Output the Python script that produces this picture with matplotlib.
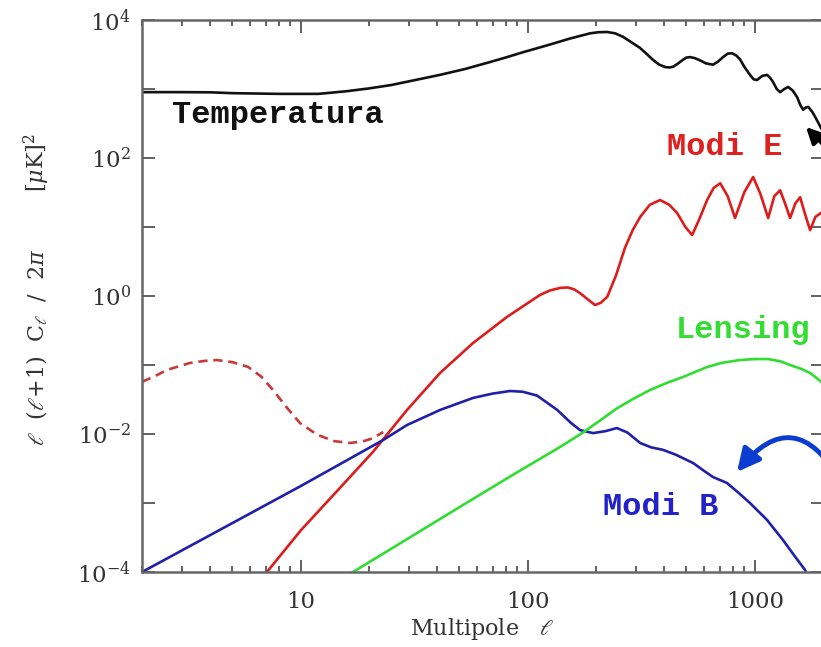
import matplotlib
matplotlib.use("Agg")
import matplotlib.pyplot as plt
from matplotlib.ticker import LogLocator, NullLocator, NullFormatter

# temperature spectrum
ell_tt = [2, 3, 4, 5, 8, 12, 16, 20, 25, 32, 41, 53, 68, 80, 95, 113, 125, 154,
          188, 205, 224, 243, 263, 285, 312, 335, 356, 380, 403, 420, 437, 460,
          483, 500, 519, 545, 574, 610, 655, 690, 725, 760, 794, 830, 861, 900,
          953, 990, 1024, 1080, 1133, 1170, 1205, 1250, 1294, 1350, 1403, 1470,
          1538, 1590, 1634, 1680, 1721, 1790, 1849, 1910, 1961]
cl_tt = [900, 900, 895, 870, 850, 850, 930, 1020, 1140, 1350, 1600, 1950, 2450,
         2860, 3400, 4000, 4400, 5400, 6400, 6650, 6700, 6400, 5700, 4800, 3950,
         3200, 2650, 2250, 2080, 2050, 2100, 2350, 2650, 2850, 2900, 2800, 2600,
         2350, 2250, 2500, 2900, 3250, 3300, 3050, 2700, 2100, 1600, 1380, 1350,
         1550, 1600, 1450, 1260, 1000, 900, 1000, 1070, 950, 760, 580, 500, 540,
         550, 470, 390, 320, 270]

# E modes (solid) and reionization bump (dashed)
ell_ee = [7.1, 10, 15, 20.8, 29.4, 41.1, 57.4, 81, 113, 125, 139, 150, 160, 170,
          185, 198, 210, 224, 245, 268, 290, 313, 345, 383, 420, 455, 495, 530,
          570, 617, 660, 705, 760, 819, 900, 984, 1060, 1146, 1220, 1294, 1360,
          1432, 1510, 1585, 1670, 1754, 1850, 1960]
cl_ee = [1e-4, 4.0e-4, 1.7e-3, 5.5e-3, 0.0223, 0.0766, 0.208, 0.497, 1.03, 1.2,
         1.31, 1.33, 1.25, 1.10, 0.88, 0.74, 0.80, 0.97, 2.0, 4.96, 9, 14, 21,
         24.6, 21, 16, 10, 7.65, 13, 24.6, 37, 43, 28, 13.5, 32, 53, 30, 13.5,
         28, 34, 22, 13.5, 22, 27, 15, 9, 14, 16]
ell_ee_reion = [2, 2.3, 2.58, 3.25, 3.8, 4.28, 5, 5.86, 6.7, 7.55, 8.7, 9.93,
                11.8, 14, 16.5, 19, 20.8, 23.1]
cl_ee_reion = [0.057, 0.07, 0.085, 0.107, 0.115, 0.118, 0.11, 0.094, 0.068,
               0.0435, 0.024, 0.0144, 0.0098, 0.0079, 0.0074, 0.0079, 0.0087,
               0.0107]

# B modes
ell_bb = [2, 10, 23.1, 29.4, 41.1, 57.4, 70, 83.6, 95, 110, 135, 155, 170, 194,
          220, 247, 275, 313, 350, 394, 450, 535, 600, 655, 755, 850, 953, 1132,
          1333, 1500, 1667, 1720]
cl_bb = [1e-4, 1.76e-3, 8.2e-3, 0.0135, 0.0223, 0.0333, 0.0385, 0.042, 0.041,
         0.036, 0.0223, 0.0145, 0.0114, 0.0103, 0.011, 0.0122, 0.0105, 0.0074,
         0.0064, 0.0059, 0.0050, 0.0038, 0.0029, 0.00238, 0.00195, 0.0014,
         0.001, 5.7e-4, 2.9e-4, 1.7e-4, 1.07e-4, 8e-5]

# lensing B modes
ell_lens = [17, 27.4, 50, 90, 139, 175, 210, 247, 290, 346, 410, 483, 550, 617,
            720, 861, 1000, 1146, 1300, 1432, 1600, 1754, 1850, 1960]
cl_lens = [1e-4, 2.6e-4, 8.7e-4, 2.8e-3, 0.0065, 0.0105, 0.016, 0.0235, 0.032,
           0.0435, 0.055, 0.067, 0.08, 0.0935, 0.108, 0.118, 0.122, 0.122,
           0.113, 0.1, 0.088, 0.0766, 0.067, 0.057]

x_ticks = [10, 100, 1000]
x_ticklabels = ["10", "100", "1000"]
y_ticks = [1e-4, 1e-3, 1e-2, 1e-1, 1e0, 1e1, 1e2, 1e3, 1e4]
y_ticklabels = [r"$10^{-4}$", "", r"$10^{-2}$", "", r"$10^{0}$", "",
                r"$10^{2}$", "", r"$10^{4}$"]

plt.rcParams["mathtext.fontset"] = "dejavuserif"
plt.rcParams["font.family"] = "DejaVu Serif"

fig = plt.figure(figsize=(8.21, 6.47), dpi=100)
ax = fig.add_axes([0.1730, 0.1159, 0.8295, 0.8532])

ax.plot(ell_tt, cl_tt, color="#111111", lw=1.9)
ax.plot(ell_ee, cl_ee, color="#dd1c1c", lw=1.9)
ax.plot(ell_ee_reion, cl_ee_reion, color="#c83a3a", lw=1.9, ls=(0, (3.5, 2.2)))
ax.plot(ell_bb, cl_bb, color="#2020a8", lw=1.9)
ax.plot(ell_lens, cl_lens, color="#30dd30", lw=1.9)

ax.set_xscale("log")
ax.set_yscale("log")
ax.set_xlim(2, 2000)
ax.set_ylim(1e-4, 1e4)

ax.set_xticks(x_ticks)
ax.set_xticklabels(x_ticklabels)
ax.xaxis.set_minor_locator(LogLocator(base=10, subs=range(2, 10)))
ax.xaxis.set_minor_formatter(NullFormatter())
ax.set_yticks(y_ticks)
ax.set_yticklabels(y_ticklabels)
ax.yaxis.set_minor_locator(NullLocator())

ax.tick_params(which="both", direction="in", top=True, right=True,
               color="#555555", width=1.3)
ax.tick_params(which="major", length=9, labelsize=16.5, labelcolor="#333333")
ax.tick_params(axis="x", which="major", pad=14)
ax.tick_params(axis="y", which="major", pad=8)
ax.tick_params(which="minor", length=4)
for sp in ax.spines.values():
    sp.set_color("#666666")
    sp.set_linewidth(1.8)

ax.set_xlabel(r"Multipole   $\ell$", fontsize=16, color="#333333", labelpad=2)
fig.text(0.045, 1 - 163 / 647, r"$[\mu\mathrm{K}]^2$", rotation=90,
         ha="center", va="center", fontsize=16, color="#333333")
fig.text(0.045, 1 - 347 / 647,
         r"$\ell\ \ (\ell{+}1)\ \ \mathrm{C}_\ell\ \ /\ \ 2\pi$",
         rotation=90, ha="center", va="center", fontsize=16, color="#333333")

mono = dict(family="Liberation Mono", weight="bold", fontsize=23,
            transform=ax.transAxes, ha="left", va="baseline")
ax.text(0.044, 0.813, "Temperatura", color="#111111", **mono)
ax.text(0.771, 0.755, "Modi E", color="#dd2020", **mono)
ax.text(0.783, 0.424, "Lensing", color="#33dd33", **mono)
ax.text(0.677, 0.103, "Modi B", color="#2222c8", **mono)

ax.annotate("", xy=(806 / 821, 1 - 127 / 647), xycoords="figure fraction",
            xytext=(850 / 821, 1 - 172 / 647), textcoords="figure fraction",
            arrowprops=dict(arrowstyle="-|>", color="black", lw=2.8,
                            mutation_scale=24, shrinkA=0, shrinkB=0),
            annotation_clip=False)
ax.annotate("", xy=(737 / 821, 1 - 472 / 647), xycoords="figure fraction",
            xytext=(840 / 821, 1 - 480 / 647), textcoords="figure fraction",
            arrowprops=dict(arrowstyle="-|>", color="#0a3cd0", lw=3.5,
                            mutation_scale=34, shrinkA=0, shrinkB=0,
                            connectionstyle="arc3,rad=0.72"),
            annotation_clip=False)

fig.savefig("out.png", dpi=100)
